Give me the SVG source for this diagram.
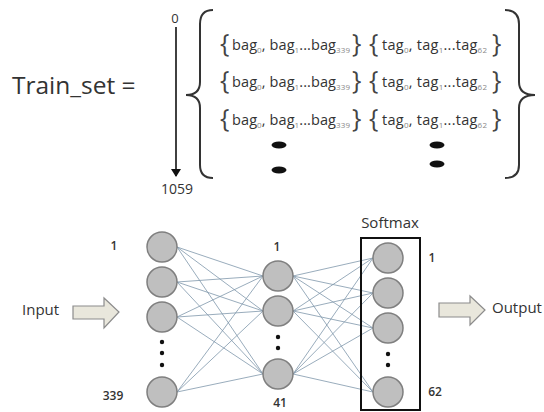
<svg xmlns="http://www.w3.org/2000/svg" xmlns:xlink="http://www.w3.org/1999/xlink" width="544" height="412" viewBox="0 0 544 412">
<style>
text{font-family:"Open Sans","Noto Sans","Liberation Sans",sans-serif;fill:#333}
.m{font-size:14.5px}
.s{font-size:8px;fill:#888}
.br{font-size:25px;fill:#444}
.lab{font-size:12px;font-weight:600;fill:#333}
.big{font-size:24.5px}
.node{fill:#bfbfbf;stroke:#7f7f7f;stroke-width:1.5}
.edge{stroke:#7f97ab;stroke-width:0.8;fill:none}
.blk{fill:#e9e7dc;stroke:#8c8c8c;stroke-width:1.2}
.curly{fill:none;stroke:#333;stroke-width:2}
</style>
<defs>
<marker id="ah" markerWidth="8" markerHeight="12" refX="7" refY="6" orient="auto" markerUnits="userSpaceOnUse">
<path d="M0,1 L8,6 L0,11 Z" fill="#111"/>
</marker>
<g id="row">
<text class="br" x="220" y="52">{</text>
<text class="m" x="232" y="50" textLength="118" lengthAdjust="spacing">bag<tspan class="s" dy="3">0</tspan><tspan dy="-3">, bag</tspan><tspan class="s" dy="3">1</tspan><tspan dy="-3">...bag</tspan><tspan class="s" dy="3">339</tspan></text>
<text class="br" x="352" y="52">}</text>
<text class="br" x="369" y="52">{</text>
<text class="m" x="382" y="50" textLength="105" lengthAdjust="spacing">tag<tspan class="s" dy="3">0</tspan><tspan dy="-3">, tag</tspan><tspan class="s" dy="3">1</tspan><tspan dy="-3">...tag</tspan><tspan class="s" dy="3">62</tspan></text>
<text class="br" x="492" y="52">}</text>
</g>
</defs>

<g id="title"><text class="big" x="12" y="94">Train_set =</text></g>

<g id="index-axis">
<text class="m" x="175" y="23" text-anchor="middle" style="font-size:13px">0</text>
<line x1="176" y1="27" x2="176" y2="176" stroke="#111" stroke-width="1.6" marker-end="url(#ah)"/>
<text x="177" y="194" text-anchor="middle" style="font-size:14px">1059</text>
</g>

<g id="outer-braces">
<path class="curly" d="M213,10 Q200,10 200,24 L200,82 Q200,95 186,95 Q200,95 200,108 L200,165 Q200,178 213,178"/>
<path class="curly" d="M505,10 Q519,10 519,24 L519,82 Q519,95 535,95 Q519,95 519,108 L519,165 Q519,178 505,178"/>
</g>

<g id="rows">
<use xlink:href="#row"/>
<use xlink:href="#row" transform="translate(0,37)"/>
<use xlink:href="#row" transform="translate(0,75)"/>
<ellipse cx="279" cy="145" rx="7.5" ry="3.5" fill="#111"/>
<ellipse cx="279" cy="170" rx="7.5" ry="3.5" fill="#111"/>
<ellipse cx="437" cy="145" rx="7.5" ry="3.5" fill="#111"/>
<ellipse cx="437" cy="164" rx="7.5" ry="3.5" fill="#111"/>
</g>

<g id="connectors">
<path class="edge" d="M177,247L263,276M177,247L263,311M177,247L263,374M177,282L263,276M177,282L263,311M177,282L263,374M177,317L263,276M177,317L263,311M177,317L263,374M177,392L263,276M177,392L263,311M177,392L263,374"/>
<path class="edge" d="M293,276L373,258M293,276L373,293M293,276L373,328M293,276L373,392M293,311L373,258M293,311L373,293M293,311L373,328M293,311L373,392M293,374L373,258M293,374L373,293M293,374L373,328M293,374L373,392"/>
</g>

<g id="input-layer">
<circle class="node" cx="162" cy="247" r="15"/>
<circle class="node" cx="162" cy="282" r="15"/>
<circle class="node" cx="162" cy="317" r="15"/>
<circle class="node" cx="162" cy="392" r="15"/>
<circle cx="162" cy="342" r="2.2" fill="#111"/>
<circle cx="162" cy="353" r="2.2" fill="#111"/>
<circle cx="162" cy="365" r="2.2" fill="#111"/>
<text class="lab" x="114" y="250" text-anchor="middle">1</text>
<text class="lab" x="113" y="400" text-anchor="middle">339</text>
</g>

<g id="hidden-layer">
<circle class="node" cx="278" cy="276" r="15"/>
<circle class="node" cx="278" cy="311" r="15"/>
<circle class="node" cx="278" cy="374" r="15"/>
<circle cx="278" cy="337" r="2.2" fill="#111"/>
<circle cx="278" cy="348" r="2.2" fill="#111"/>
<text class="lab" x="277" y="251" text-anchor="middle">1</text>
<text class="lab" x="280" y="407" text-anchor="middle">41</text>
</g>

<g id="softmax-layer">
<rect x="361" y="238" width="59" height="172" fill="none" stroke="#111" stroke-width="2"/>
<text x="390" y="228" text-anchor="middle" style="font-size:15px">Softmax</text>
<circle class="node" cx="388" cy="258" r="15"/>
<circle class="node" cx="388" cy="293" r="15"/>
<circle class="node" cx="388" cy="328" r="15"/>
<circle class="node" cx="388" cy="392" r="15"/>
<circle cx="388" cy="354" r="2.2" fill="#111"/>
<circle cx="388" cy="365" r="2.2" fill="#111"/>
<text class="lab" x="432" y="262" text-anchor="middle">1</text>
<text class="lab" x="435" y="396" text-anchor="middle">62</text>
</g>

<g id="input">
<text x="22" y="315" style="font-size:15px">Input</text>
<polygon class="blk" points="73,306 104,306 104,298 119,312 104,328 104,319 73,319"/>
</g>

<g id="output">
<polygon class="blk" points="439,303 470,303 470,296 485,310 470,325 470,317 439,317"/>
<text x="492" y="313" style="font-size:15px">Output</text>
</g>
</svg>
